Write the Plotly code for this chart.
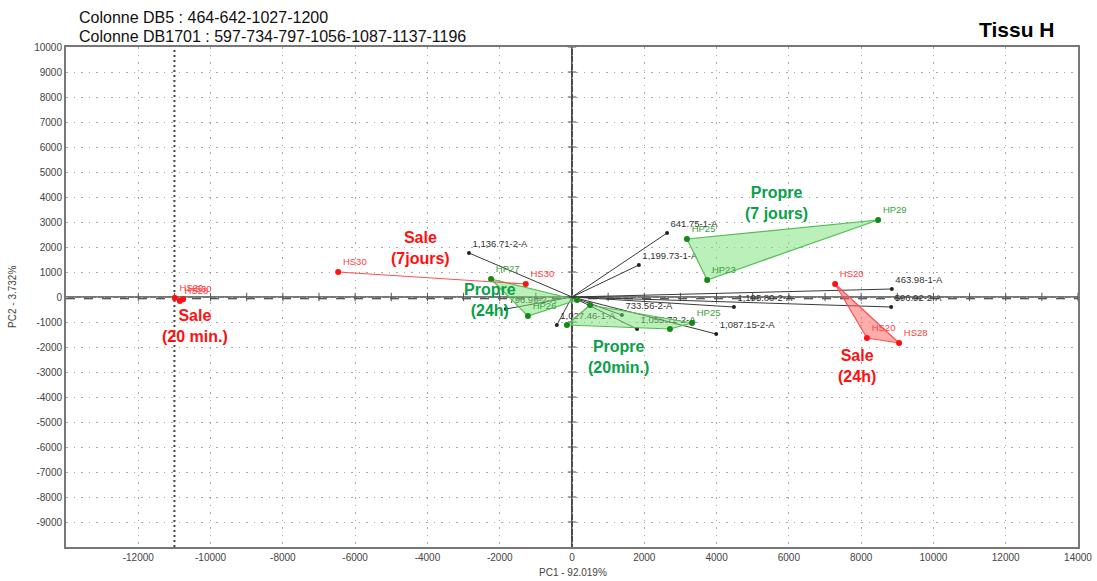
import plotly.graph_objects as go

# --- PCA scores (samples), grouped by condition ---
sale_20min_pc1 = [-10990, -10850, -10760]
sale_20min_pc2 = [-40, -160, -90]
sale_20min_lbl = ["HS20", "HS28", "HS30"]

sale_7j_pc1 = [-6470, -1280]
sale_7j_pc2 = [1000, 520]
sale_7j_lbl = ["HS30", "HS30"]

sale_24h_pc1 = [7280, 8160, 9050]
sale_24h_pc2 = [520, -1640, -1840]
sale_24h_lbl = ["HS20", "HS20", "HS28"]

propre_24h_pc1 = [-2240, -1220, 140]
propre_24h_pc2 = [720, -760, -120]
propre_24h_lbl = ["HP27", "HP26", ""]

propre_20min_pc1 = [500, 3320, 2710, -140]
propre_20min_pc2 = [-320, -1040, -1280, -1120]
propre_20min_lbl = ["", "HP25", "", ""]

propre_7j_pc1 = [3180, 8470, 3740]
propre_7j_pc2 = [2320, 3080, 680]
propre_7j_lbl = ["HP25", "HP29", "HP23"]

# --- PCA loadings (retention indices, column 1 = DB5, column 2 = DB1701) ---
load_lbl = ["641.75-1-A", "1,199.73-1-A", "1,136.71-2-A", "796.90-2-A",
            "1,027.46-1-A", "733.56-2-A", "1,055.72-2-A", "1,087.15-2-A",
            "1,195.80-2-A", "463.98-1-A", "596.92-2-A"]
load_pc1 = [2630, 1850, -2850, -1830, -420, 1380, 1800, 3990, 4480, 8850, 8830]
load_pc2 = [2560, 1280, 1760, -480, -1120, -720, -1280, -1480, -400, 320, -400]

# --- axis ticks ---
x_ticks = list(range(-12000, 14001, 2000))
y_ticks = list(range(-9000, 10001, 1000))

GREEN_TXT = "#0aa04a"
GREEN_PT = "#138a13"
GREEN_LBL = "#3aa23a"
RED = "#ff1010"
FONT = "Liberation Sans, Arial, sans-serif"

fig = go.Figure()

# small tick marks along the origin axes
fig.add_trace(go.Scatter(x=[v for v in x_ticks if v != 0] + [v + 1000 for v in x_ticks if v + 1000 <= 13000],
                         y=[0] * (len(x_ticks) - 1) + [0] * len([v for v in x_ticks if v + 1000 <= 13000]),
                         mode="markers", marker=dict(symbol="line-ns", size=6,
                                                     line=dict(color="#555555", width=1)),
                         hoverinfo="skip", showlegend=False))
fig.add_trace(go.Scatter(x=[0] * len(y_ticks), y=y_ticks, mode="markers",
                         marker=dict(symbol="line-ew", size=6,
                                     line=dict(color="#555555", width=1)),
                         hoverinfo="skip", showlegend=False))

# loading vectors from the origin
for lx, ly in zip(load_pc1, load_pc2):
    fig.add_trace(go.Scatter(x=[0, lx], y=[0, ly], mode="lines",
                             line=dict(color="#3a3a3a", width=1),
                             hoverinfo="skip", showlegend=False))
fig.add_trace(go.Scatter(x=load_pc1, y=load_pc2, mode="markers+text",
                         text=load_lbl, textposition="top right",
                         textfont=dict(size=9.5, color="#333333", family=FONT),
                         marker=dict(color="#222222", size=4),
                         showlegend=False))


def group(px, py, labels, fill, line, marker, lbl_color):
    fig.add_trace(go.Scatter(x=px + [px[0]], y=py + [py[0]], mode="lines",
                             fill="toself", fillcolor=fill,
                             line=dict(color=line, width=1.2),
                             hoverinfo="skip", showlegend=False))
    fig.add_trace(go.Scatter(x=px, y=py, mode="markers+text",
                             text=labels, textposition="top right",
                             textfont=dict(size=9.5, color=lbl_color, family=FONT),
                             marker=dict(color=marker, size=6),
                             showlegend=False))


G_FILL = "rgba(120,225,120,0.5)"
R_FILL = "rgba(255,90,90,0.5)"
group(propre_24h_pc1, propre_24h_pc2, propre_24h_lbl, G_FILL, "#55bb55", GREEN_PT, GREEN_LBL)
group(propre_20min_pc1, propre_20min_pc2, propre_20min_lbl, G_FILL, "#55bb55", GREEN_PT, GREEN_LBL)
group(propre_7j_pc1, propre_7j_pc2, propre_7j_lbl, G_FILL, "#55bb55", GREEN_PT, GREEN_LBL)
group(sale_7j_pc1, sale_7j_pc2, sale_7j_lbl, R_FILL, "#ff5050", RED, "#ff4040")
group(sale_24h_pc1, sale_24h_pc2, sale_24h_lbl, R_FILL, "#ff5050", RED, "#ff4040")
group(sale_20min_pc1, sale_20min_pc2, sale_20min_lbl, R_FILL, "#ff5050", RED, "#ff4040")

# origin axes and reference line
fig.add_shape(type="line", xref="x", yref="y", x0=-14000, x1=14000, y0=0, y1=0,
              line=dict(color="#777777", width=2), layer="below")
fig.add_shape(type="line", xref="x", yref="y", x0=-14000, x1=14000, y0=-70, y1=-70,
              line=dict(color="#222222", width=1, dash="dash"), layer="below")
fig.add_shape(type="line", xref="x", yref="y", x0=0, x1=0, y0=-10000, y1=10000,
              line=dict(color="#111111", width=1.5), layer="below")
fig.add_shape(type="line", xref="x", yref="y", x0=-11000, x1=-11000, y0=-10000, y1=10000,
              line=dict(color="#444444", width=2, dash="2px,3px"), layer="below")

# group captions
captions = [
    ("Propre<br>(7 jours)", 5670, 3760, GREEN_TXT),
    ("Sale<br>(7jours)", -4180, 1960, RED),
    ("Propre<br>(24h)", -2270, -120, GREEN_TXT),
    ("Sale<br>(20 min.)", -10430, -1160, RED),
    ("Propre<br>(20min.)", 1300, -2400, GREEN_TXT),
    ("Sale<br>(24h)", 7890, -2760, RED),
]
for txt, cx, cy, col in captions:
    fig.add_annotation(x=cx, y=cy, xref="x", yref="y", text="<b>%s</b>" % txt,
                       showarrow=False, font=dict(size=16, color=col, family=FONT))

# header texts
fig.add_annotation(x=0.0109, y=1.058, xref="paper", yref="paper", xanchor="left",
                   yanchor="middle", showarrow=False,
                   text="Colonne DB5 : 464-642-1027-1200",
                   font=dict(size=16, color="#111111", family=FONT))
fig.add_annotation(x=0.0109, y=1.02, xref="paper", yref="paper", xanchor="left",
                   yanchor="middle", showarrow=False,
                   text="Colonne DB1701 : 597-734-797-1056-1087-1137-1196",
                   font=dict(size=16, color="#111111", family=FONT))
fig.add_annotation(x=0.9397, y=1.034, xref="paper", yref="paper", xanchor="center",
                   yanchor="middle", showarrow=False, text="<b>Tissu H</b>",
                   font=dict(size=21, color="#000000", family=FONT))

# axis titles
fig.add_annotation(x=0.501, y=-0.05, xref="paper", yref="paper", showarrow=False,
                   text="PC1 - 92.019%", yanchor="middle",
                   font=dict(size=10, color="#444444", family=FONT))
fig.add_annotation(x=-0.0534, y=0.5, xref="paper", yref="paper", showarrow=False,
                   text="PC2 - 3.732%", textangle=-90, xanchor="center",
                   font=dict(size=10, color="#444444", family=FONT))

axis_common = dict(showgrid=True, gridcolor="#a8a8a8", griddash="1.5px,6px", gridwidth=1,
                   zeroline=False, showline=True, linecolor="#777777", linewidth=2,
                   mirror=True, ticks="", automargin=False,
                   tickfont=dict(size=10, color="#444444", family=FONT))

fig.update_layout(
    width=1097, height=581,
    margin=dict(l=66, r=19, t=47, b=34),
    paper_bgcolor="white", plot_bgcolor="white",
    xaxis=dict(range=[-14000, 14000], tickvals=x_ticks,
               ticktext=[str(v) for v in x_ticks], **axis_common),
    yaxis=dict(range=[-10000, 10000], tickvals=y_ticks,
               ticktext=[str(v) for v in y_ticks], **axis_common),
    showlegend=False,
)

fig.write_html("out.html")
